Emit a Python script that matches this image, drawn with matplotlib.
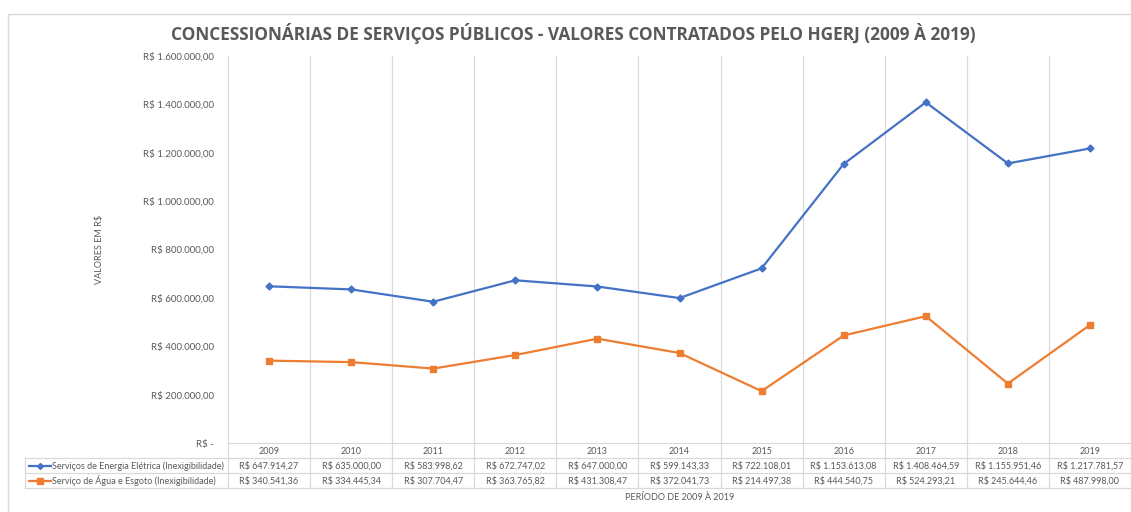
import matplotlib.pyplot as plt
from matplotlib.patches import Rectangle
from matplotlib.lines import Line2D
import matplotlib.transforms as mtransforms

plt.rcParams['font.family'] = ['Lato', 'DejaVu Sans']

# Dados
anos = ['2009', '2010', '2011', '2012', '2013', '2014', '2015', '2016', '2017', '2018', '2019']
energia = [647914.27, 635000.00, 583998.62, 672747.02, 647000.00, 599143.33,
           722108.01, 1153613.08, 1408464.59, 1155951.46, 1217781.57]
agua = [340541.36, 334445.34, 307704.47, 363765.82, 431308.47, 372041.73,
        214497.38, 444540.75, 524293.21, 245644.46, 487998.00]
nome_energia = "Serviços de Energia Elétrica (Inexigibilidade)"
nome_agua = "Serviço de Água e Esgoto (Inexigibilidade)"
yticks = [0, 200000, 400000, 600000, 800000, 1000000, 1200000, 1400000, 1600000]

AZUL = '#4472C4'
LARANJA = '#ED7D31'
CINZA_TXT = '#595959'
CINZA_LINHA = '#D9D9D9'


def brl(v):
    s = f"{v:,.2f}".replace(',', 'X').replace('.', ',').replace('X', '.')
    return "R$ " + s


W, H = 1131, 512
fig = plt.figure(figsize=(W / 100, H / 100), dpi=100)


def fx(px):
    return px / W


def fy(py):
    return 1 - py / H


# moldura do gráfico
fig.patches.append(Rectangle((fx(8), fy(540)), fx(1140), fy(14) - fy(540),
                             transform=fig.transFigure, fill=False,
                             edgecolor=CINZA_LINHA, lw=1))

ax = fig.add_axes([fx(228), fy(443), fx(1131) - fx(228), fy(56) - fy(443)])
x = list(range(len(anos)))
ax.plot(x, energia, color=AZUL, lw=1.6, marker='D', ms=3.5, label=nome_energia)
ax.plot(x, agua, color=LARANJA, lw=1.6, marker='s', ms=4.5, label=nome_agua)

ax.set_xlim(-0.5, len(anos) - 0.5)
ax.set_ylim(0, 1600000)
ax.set_yticks(yticks)
ax.set_yticklabels(["R$ -" if v == 0 else brl(v) for v in yticks],
                   fontsize=7, color=CINZA_TXT)
ax.tick_params(axis='y', length=0, pad=10)
ax.set_xticks([])
for s in ['top', 'right']:
    ax.spines[s].set_visible(False)
ax.spines['left'].set_color(CINZA_LINHA)
ax.spines['bottom'].set_color(CINZA_LINHA)
for i in range(1, len(anos)):
    ax.axvline(i - 0.5, color=CINZA_LINHA, lw=0.9, zorder=0)

ax.set_ylabel("VALORES EM R$", fontsize=6.5, color=CINZA_TXT, labelpad=28)

# tabela de dados
trans = mtransforms.blended_transform_factory(ax.transData, fig.transFigure)
linhas_y = [443, 458, 473, 488]
for py in linhas_y[1:]:
    fig.add_artist(Line2D([fx(25), fx(1131)], [fy(py), fy(py)],
                          color=CINZA_LINHA, lw=0.9))
for i in range(len(anos) + 1):
    ax.add_line(Line2D([i - 0.5, i - 0.5], [fy(443), fy(488)], transform=trans,
                       color=CINZA_LINHA, lw=0.9, clip_on=False))
fig.add_artist(Line2D([fx(25), fx(25)], [fy(458), fy(488)], color=CINZA_LINHA, lw=0.9))

for i, ano in enumerate(anos):
    ax.text(i, fy(451), ano, transform=trans, ha='center', va='center',
            fontsize=6.5, color=CINZA_TXT, clip_on=False)
    ax.text(i, fy(466), brl(energia[i]), transform=trans, ha='center', va='center',
            fontsize=6.5, color=CINZA_TXT, clip_on=False)
    ax.text(i, fy(481), brl(agua[i]), transform=trans, ha='center', va='center',
            fontsize=6.5, color=CINZA_TXT, clip_on=False)

# legenda dentro da tabela
for py, cor, mk, ms, nome in [(466, AZUL, 'D', 3, nome_energia),
                              (481, LARANJA, 's', 4, nome_agua)]:
    fig.add_artist(Line2D([fx(29), fx(51)], [fy(py), fy(py)], color=cor, lw=1.6))
    fig.add_artist(Line2D([fx(40)], [fy(py)], color=cor, marker=mk, ms=ms, lw=0))
    fig.text(fx(52), fy(py), nome, ha='left', va='center', fontsize=6.5, color=CINZA_TXT)

fig.text(fx(680), fy(497), "PERÍODO DE 2009 À 2019", ha='center', va='center',
         fontsize=6.5, color=CINZA_TXT)

fig.text(fx(573), fy(33),
         "CONCESSIONÁRIAS DE SERVIÇOS PÚBLICOS - VALORES CONTRATADOS PELO HGERJ (2009 À 2019)",
         ha='center', va='center', fontsize=12.4, fontweight='bold', color=CINZA_TXT,
         family=['Open Sans', 'DejaVu Sans'])

fig.savefig('out.png', dpi=100, facecolor='white')
